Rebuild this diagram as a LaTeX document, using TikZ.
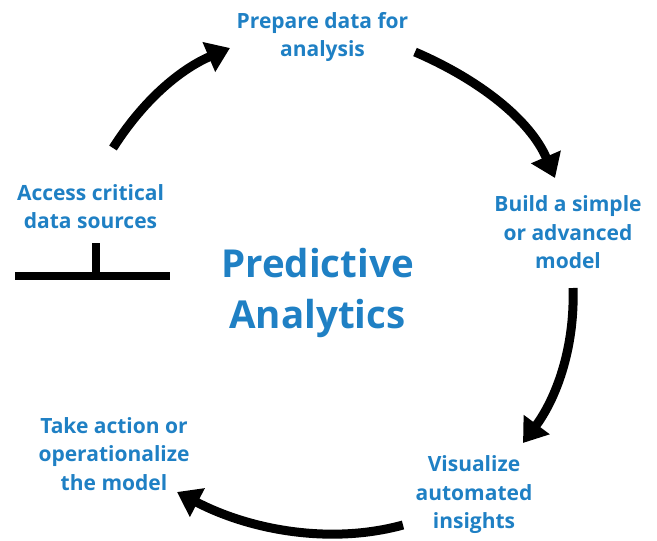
\documentclass[tikz,border=0pt]{standalone}
\usepackage{fontspec}
\setmainfont{Open Sans}[Ligatures={NoCommon}]
\usetikzlibrary{arrows.meta}
\definecolor{pablue}{RGB}{31,128,196}
\tikzset{
  lbl/.style={align=center, text=pablue, font=\bfseries\fontsize{21}{28.5}\selectfont, inner sep=0pt, anchor=base},
  title/.style={align=center, text=pablue, font=\bfseries\fontsize{38.5}{51}\selectfont, inner sep=0pt, anchor=base},
  cyc/.style={line width=9pt, -{Triangle[length=23pt,width=31pt]}},
  bar/.style={line width=8pt}
}
\begin{document}
\begin{tikzpicture}[x=1pt,y=-1pt]
\useasboundingbox (0,0) rectangle (657,541);
\node[lbl] (prep) at (322.5,56.5) {Prepare data for\\analysis};
\node[lbl] (build) at (568,268.5) {Build a simple\\or advanced\\model};
\node[lbl] (vis) at (474,528.5) {Visualize\\automated\\insights};
\node[lbl] (act) at (114,490) {Take action or\\operationalize\\the model};
\node[lbl] (acc) at (90.5,228.5) {Access critical\\data sources};
\node[title] (pa) at (317.5,328) {Predictive\\Analytics};
\coordinate (a1s) at (113,148); \coordinate (a1e) at (230,48);
\coordinate (a2s) at (415,52);  \coordinate (a2e) at (555,178);
\coordinate (a3s) at (573,288); \coordinate (a3e) at (523,443);
\coordinate (a4s) at (403,525); \coordinate (a4e) at (177,492);
\draw[cyc] (a1s) .. controls (150,90) and (190,65) .. (a1e);
\draw[cyc] (a2s) .. controls (480,80) and (530,120) .. (a2e);
\draw[cyc] (a3s) .. controls (575,350) and (555,400) .. (a3e);
\draw[cyc] (a4s) .. controls (330,545) and (250,530) .. (a4e);
\coordinate (bl) at (15,275.5); \coordinate (br) at (170,275.5);
\coordinate (bt) at (96,243); \coordinate (bm) at (96,275.5);
\draw[bar] (bl) -- (br);
\draw[bar] (bt) -- (bm);
\end{tikzpicture}
\end{document}
